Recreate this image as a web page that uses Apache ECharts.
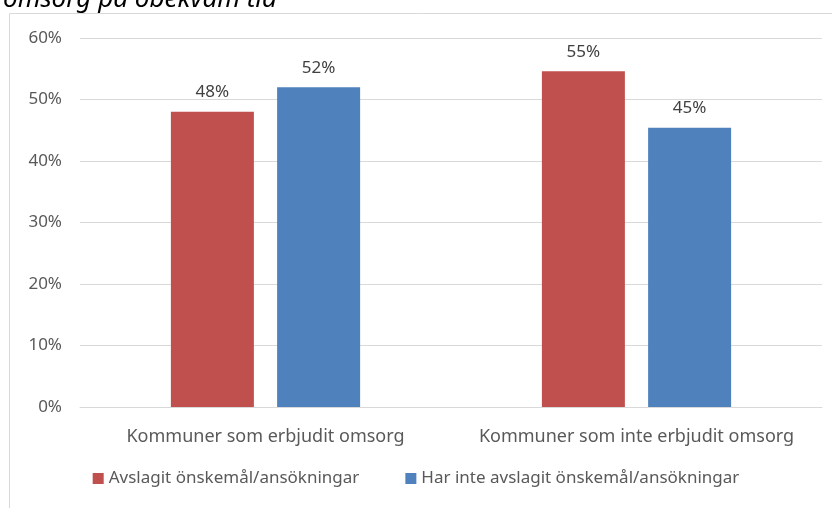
<!DOCTYPE html>
<html lang="sv">
<head>
  <meta charset="UTF-8">
  <script src="https://cdn.jsdelivr.net/npm/echarts@6/dist/echarts.min.js"></script>
  <style>
    html, body { margin: 0; background: #fff; }
    #chart { width: 832px; height: 508px; }
  </style>
</head>
<body>
  <div id="chart"></div>
  <script>
    // data
    var categories = ['Kommuner som erbjudit omsorg', 'Kommuner som inte erbjudit omsorg'];
    var seriesNames = ['Avslagit önskemål/ansökningar', 'Har inte avslagit önskemål/ansökningar'];
    var avslagit = [0.48, 0.546];
    var harInte = [0.52, 0.454];
    var yTicks = [0, 0.1, 0.2, 0.3, 0.4, 0.5, 0.6];

    var font = '"Noto Sans", sans-serif';
    var chart = echarts.init(document.getElementById('chart'), null, { renderer: 'canvas' });

    function pct(v) { return Math.round(v * 100) + '%'; }

    var barLabel = {
      show: true,
      position: 'top',
      distance: 11,
      fontFamily: font,
      fontSize: 17,
      color: '#404040',
      formatter: function (p) { return pct(p.value); }
    };

    var option = {
      animation: false,
      color: ['#c0504d', '#4f81bd'],
      title: {
        text: 'omsorg på obekväm tid',
        left: -2,
        top: -18,
        textStyle: { fontFamily: font, fontStyle: 'italic', fontWeight: 'normal', fontSize: 26, color: '#000' }
      },
      graphic: [{
        type: 'rect',
        shape: { x: 9.5, y: 13.5, width: 900, height: 600 },
        style: { fill: 'none', stroke: '#d9d9d9', lineWidth: 1 },
        silent: true
      }],
      grid: { left: 80, right: 10, top: 38, bottom: 101 },
      legend: {
        bottom: 16,
        left: 'center',
        itemWidth: 11,
        itemHeight: 11,
        itemGap: 46,
        icon: 'rect',
        textStyle: { fontFamily: font, fontSize: 17, color: '#595959' },
        data: seriesNames
      },
      xAxis: {
        type: 'category',
        data: categories,
        axisLine: { lineStyle: { color: '#d9d9d9' } },
        axisTick: { show: false },
        axisLabel: { interval: 0, hideOverlap: false, fontFamily: font, fontSize: 18, color: '#595959', margin: 21 }
      },
      yAxis: {
        type: 'value',
        min: yTicks[0],
        max: yTicks[yTicks.length - 1],
        interval: 0.1,
        axisLine: { show: false },
        axisTick: { show: false },
        splitLine: { lineStyle: { color: '#d9d9d9' } },
        axisLabel: { fontFamily: font, fontSize: 17, color: '#595959', margin: 18, formatter: pct }
      },
      series: [
        {
          name: seriesNames[0],
          type: 'bar',
          data: avslagit,
          barWidth: 83,
          barGap: '28%',
          label: barLabel
        },
        {
          name: seriesNames[1],
          type: 'bar',
          data: harInte,
          barWidth: 83,
          barGap: '28%',
          label: barLabel
        }
      ]
    };

    chart.setOption(option);
  </script>
</body>
</html>
